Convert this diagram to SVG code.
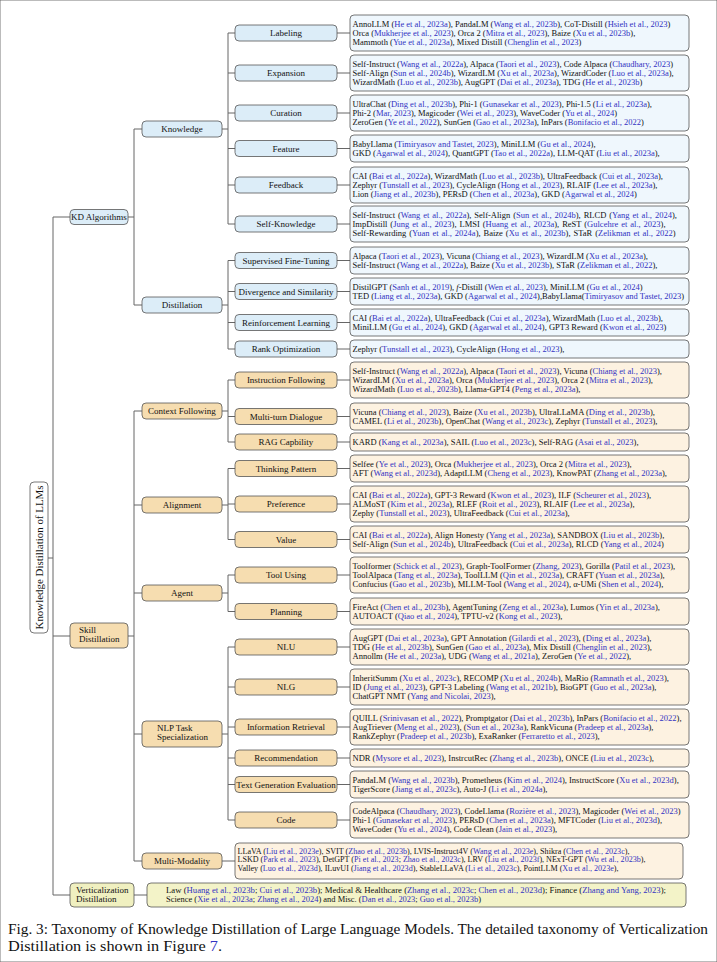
<svg xmlns="http://www.w3.org/2000/svg" width="717" height="962" viewBox="0 0 717 962">
<style>
text{font-family:"Liberation Serif","DejaVu Serif",serif;fill:#111}
.t{font-size:8.5px}
.m{font-size:8px}
.v{font-size:8.1px}
.c{fill:#3232c2}
.lb{font-size:9px;text-anchor:middle}
.ll{font-size:9px}
rect{stroke:#555;stroke-width:0.8}
.kb{fill:#dcedf8}
.kt{fill:#eff7fd}
.sb{fill:#f6ddb0}
.st{fill:#fdf2e1}
.vb{fill:#f0f0c0}
.vt{fill:#f3f3c8}
.rb{fill:#fff}
.ln{stroke:#666;stroke-width:1;fill:none}
.cap{font-size:14px}
</style>
<rect width="717" height="962" fill="#fff" stroke="none"/>
<g id="connectors" class="ln">
<path d="M48 558H53M53 217V895M53 217H70M53 636H70M53 895H70"/>
<path d="M128 217H134M134 129V305M134 129H142M134 305H142"/>
<path d="M128 636H134M134 411V861M134 411H142M134 505H142M134 593H142M134 734H142M134 861H142"/>
<path d="M134 895H147M222 861H235"/>
<path d="M222 129H228M228 33V224M228 33H235M228 73H235M228 113H235M228 148.5H235M228 185H235M228 224H235"/>
<path d="M222 305H228M228 260.5V349M228 260.5H235M228 291.5H235M228 322.5H235M228 349H235"/>
<path d="M222 411H228M228 380V442M228 380H235M228 416.5H235M228 442H235"/>
<path d="M222 505H228M228 468.5V539.5M228 468.5H235M228 504H235M228 539.5H235"/>
<path d="M222 593H228M228 575V611.5M228 575H235M228 611.5H235"/>
<path d="M222 734H228M228 647V820M228 647H235M228 687H235M228 727H235M228 758H235M228 784.5H235M228 820H235"/>
<path d="M337 33H350M337 73H350M337 113H350M337 148.5H350M337 185H350M337 224H350M337 260.5H350M337 291.5H350M337 322.5H350M337 349H350"/>
<path d="M337 380H350M337 416.5H350M337 442H350M337 468.5H350M337 504H350M337 539.5H350M337 575H350M337 611.5H350"/>
<path d="M337 647H350M337 687H350M337 727H350M337 758H350M337 784.5H350M337 820H350"/>
</g>
<g id="root"><rect class="rb" x="30" y="482" width="18" height="151" rx="4"/><text transform="translate(42.6,557.5) rotate(-90)" text-anchor="middle" font-size="10.6" textLength="144" lengthAdjust="spacingAndGlyphs">Knowledge Distillation of LLMs</text></g>
<g id="kd"><rect class="kb" x="70" y="209.5" width="58" height="15" rx="4"/><text class="lb" x="99" y="220.2">KD Algorithms</text></g>
<g id="skill"><rect class="sb" x="70" y="623" width="58" height="25" rx="4"/><text class="ll" x="79" y="633">Skill</text><text class="ll" x="79" y="642">Distillation</text></g>
<g id="vert"><rect class="vb" x="70" y="883" width="64" height="24" rx="4"/><text class="ll" x="76" y="892.5">Verticalization</text><text class="ll" x="76" y="901.5">Distillation</text></g>
<g id="knowledge"><rect class="kb" x="142" y="121" width="80" height="16" rx="4"/><text class="lb" x="182" y="132">Knowledge</text></g>
<g id="distillation"><rect class="kb" x="142" y="297" width="80" height="16" rx="4"/><text class="lb" x="182" y="308">Distillation</text></g>
<g id="context"><rect class="sb" x="142" y="403" width="80" height="16" rx="4"/><text class="lb" x="182" y="414">Context Following</text></g>
<g id="alignment"><rect class="sb" x="142" y="497" width="80" height="16" rx="4"/><text class="lb" x="182" y="508">Alignment</text></g>
<g id="agent"><rect class="sb" x="142" y="585" width="80" height="16" rx="4"/><text class="lb" x="182" y="596">Agent</text></g>
<g id="nlp"><rect class="sb" x="142" y="721" width="80" height="26" rx="4"/><text class="ll" x="157" y="731">NLP Task</text><text class="ll" x="157" y="740">Specialization</text></g>
<g id="mm"><rect class="sb" x="142" y="853" width="80" height="16" rx="4"/><text class="lb" x="182" y="864">Multi-Modality</text></g>

<g id="labeling"><rect class="kb" x="235" y="25" width="102" height="16" rx="4"/><text class="lb" x="286" y="36">Labeling</text>
<rect class="kt" x="350" y="15" width="339" height="36" rx="4"/>
<text class="t" x="352.5" y="26.5">AnnoLLM (<tspan class="c">He et al., 2023a</tspan>), PandaLM (<tspan class="c">Wang et al., 2023b</tspan>), CoT-Distill (<tspan class="c">Hsieh et al., 2023</tspan>)</text>
<text class="t" x="352.5" y="35.5">Orca (<tspan class="c">Mukherjee et al., 2023</tspan>), Orca 2 (<tspan class="c">Mitra et al., 2023</tspan>), Baize (<tspan class="c">Xu et al., 2023b</tspan>),</text>
<text class="t" x="352.5" y="44.5">Mammoth (<tspan class="c">Yue et al., 2023a</tspan>), Mixed Distill (<tspan class="c">Chenglin et al., 2023</tspan>)</text></g>

<g id="expansion"><rect class="kb" x="235" y="65" width="102" height="16" rx="4"/><text class="lb" x="286" y="76">Expansion</text>
<rect class="kt" x="350" y="55" width="339" height="36" rx="4"/>
<text class="t" x="352.5" y="66.5">Self-Instruct (<tspan class="c">Wang et al., 2022a</tspan>), Alpaca (<tspan class="c">Taori et al., 2023</tspan>), Code Alpaca (<tspan class="c">Chaudhary, 2023</tspan>)</text>
<text class="t" x="352.5" y="75.5">Self-Align (<tspan class="c">Sun et al., 2024b</tspan>), WizardLM (<tspan class="c">Xu et al., 2023a</tspan>), WizardCoder (<tspan class="c">Luo et al., 2023a</tspan>),</text>
<text class="t" x="352.5" y="84.5">WizardMath (<tspan class="c">Luo et al., 2023b</tspan>), AugGPT (<tspan class="c">Dai et al., 2023a</tspan>), TDG (<tspan class="c">He et al., 2023b</tspan>)</text></g>

<g id="curation"><rect class="kb" x="235" y="105" width="102" height="16" rx="4"/><text class="lb" x="286" y="116">Curation</text>
<rect class="kt" x="350" y="95" width="339" height="36" rx="4"/>
<text class="t" x="352.5" y="106.5">UltraChat (<tspan class="c">Ding et al., 2023b</tspan>), Phi-1 (<tspan class="c">Gunasekar et al., 2023</tspan>), Phi-1.5 (<tspan class="c">Li et al., 2023a</tspan>),</text>
<text class="t" x="352.5" y="115.5">Phi-2 (<tspan class="c">Mar, 2023</tspan>), Magicoder (<tspan class="c">Wei et al., 2023</tspan>), WaveCoder (<tspan class="c">Yu et al., 2024</tspan>)</text>
<text class="t" x="352.5" y="124.5">ZeroGen (<tspan class="c">Ye et al., 2022</tspan>), SunGen (<tspan class="c">Gao et al., 2023a</tspan>), InPars (<tspan class="c">Bonifacio et al., 2022</tspan>)</text></g>

<g id="feature"><rect class="kb" x="235" y="140.5" width="102" height="16" rx="4"/><text class="lb" x="286" y="151.5">Feature</text>
<rect class="kt" x="350" y="135" width="339" height="27" rx="4"/>
<text class="t" x="352.5" y="146.5">BabyLlama (<tspan class="c">Timiryasov and Tastet, 2023</tspan>), MiniLLM (<tspan class="c">Gu et al., 2024</tspan>),</text>
<text class="t" x="352.5" y="155.5">GKD (<tspan class="c">Agarwal et al., 2024</tspan>), QuantGPT (<tspan class="c">Tao et al., 2022a</tspan>), LLM-QAT (<tspan class="c">Liu et al., 2023a</tspan>),</text></g>

<g id="feedback"><rect class="kb" x="235" y="177" width="102" height="16" rx="4"/><text class="lb" x="286" y="188">Feedback</text>
<rect class="kt" x="350" y="167" width="339" height="36" rx="4"/>
<text class="t" x="352.5" y="178.5">CAI (<tspan class="c">Bai et al., 2022a</tspan>), WizardMath (<tspan class="c">Luo et al., 2023b</tspan>), UltraFeedback (<tspan class="c">Cui et al., 2023a</tspan>),</text>
<text class="t" x="352.5" y="187.5">Zephyr (<tspan class="c">Tunstall et al., 2023</tspan>), CycleAlign (<tspan class="c">Hong et al., 2023</tspan>), RLAIF (<tspan class="c">Lee et al., 2023a</tspan>),</text>
<text class="t" x="352.5" y="196.5">Lion (<tspan class="c">Jiang et al., 2023b</tspan>), PERsD (<tspan class="c">Chen et al., 2023a</tspan>), GKD (<tspan class="c">Agarwal et al., 2024</tspan>)</text></g>

<g id="selfknowledge"><rect class="kb" x="235" y="216" width="102" height="16" rx="4"/><text class="lb" x="286" y="227">Self-Knowledge</text>
<rect class="kt" x="350" y="206" width="339" height="36" rx="4"/>
<text class="t" x="352.5" y="217.5" word-spacing="0.8">Self-Instruct (<tspan class="c">Wang et al., 2022a</tspan>), Self-Align (<tspan class="c">Sun et al., 2024b</tspan>), RLCD (<tspan class="c">Yang et al., 2024</tspan>),</text>
<text class="t" x="352.5" y="226.5" word-spacing="0.8">ImpDistill (<tspan class="c">Jung et al., 2023</tspan>), LMSI (<tspan class="c">Huang et al., 2023a</tspan>), ReST (<tspan class="c">Gulcehre et al., 2023</tspan>),</text>
<text class="t" x="352.5" y="235.5" word-spacing="0.8">Self-Rewarding (<tspan class="c">Yuan et al., 2024a</tspan>), Baize (<tspan class="c">Xu et al., 2023b</tspan>), STaR (<tspan class="c">Zelikman et al., 2022</tspan>)</text></g>

<g id="sft"><rect class="kb" x="235" y="252.5" width="102" height="16" rx="4"/><text class="lb" x="286" y="263.5">Supervised Fine-Tuning</text>
<rect class="kt" x="350" y="247" width="339" height="27" rx="4"/>
<text class="t" x="352.5" y="258.5">Alpaca (<tspan class="c">Taori et al., 2023</tspan>), Vicuna (<tspan class="c">Chiang et al., 2023</tspan>), WizardLM (<tspan class="c">Xu et al., 2023a</tspan>),</text>
<text class="t" x="352.5" y="267.5">Self-Instruct (<tspan class="c">Wang et al., 2022a</tspan>), Baize (<tspan class="c">Xu et al., 2023b</tspan>), STaR (<tspan class="c">Zelikman et al., 2022</tspan>),</text></g>

<g id="divergence"><rect class="kb" x="235" y="283.5" width="102" height="16" rx="4"/><text class="lb" x="286" y="294.5">Divergence and Similarity</text>
<rect class="kt" x="350" y="278" width="339" height="27" rx="4"/>
<text class="t" x="352.5" y="289.5">DistilGPT (<tspan class="c">Sanh et al., 2019</tspan>), <tspan font-style="italic">f</tspan>-Distill (<tspan class="c">Wen et al., 2023</tspan>), MiniLLM (<tspan class="c">Gu et al., 2024</tspan>)</text>
<text class="t" x="352.5" y="298.5">TED (<tspan class="c">Liang et al., 2023a</tspan>), GKD (<tspan class="c">Agarwal et al., 2024</tspan>),BabyLlama(<tspan class="c">Timiryasov and Tastet, 2023</tspan>)</text></g>

<g id="rl"><rect class="kb" x="235" y="314.5" width="102" height="16" rx="4"/><text class="lb" x="286" y="325.5">Reinforcement Learning</text>
<rect class="kt" x="350" y="309" width="339" height="27" rx="4"/>
<text class="t" x="352.5" y="320.5">CAI (<tspan class="c">Bai et al., 2022a</tspan>), UltraFeedback (<tspan class="c">Cui et al., 2023a</tspan>), WizardMath (<tspan class="c">Luo et al., 2023b</tspan>),</text>
<text class="t" x="352.5" y="329.5">MiniLLM (<tspan class="c">Gu et al., 2024</tspan>), GKD (<tspan class="c">Agarwal et al., 2024</tspan>), GPT3 Reward (<tspan class="c">Kwon et al., 2023</tspan>)</text></g>

<g id="rank"><rect class="kb" x="235" y="341" width="102" height="16" rx="4"/><text class="lb" x="286" y="352">Rank Optimization</text>
<rect class="kt" x="350" y="340" width="339" height="18" rx="4"/>
<text class="t" x="352.5" y="351.5">Zephyr (<tspan class="c">Tunstall et al., 2023</tspan>), CycleAlign (<tspan class="c">Hong et al., 2023</tspan>),</text></g>

<g id="instruction"><rect class="sb" x="235" y="372" width="102" height="16" rx="4"/><text class="lb" x="286" y="383">Instruction Following</text>
<rect class="st" x="350" y="362" width="339" height="36" rx="4"/>
<text class="t" x="352.5" y="373.5">Self-Instruct (<tspan class="c">Wang et al., 2022a</tspan>), Alpaca (<tspan class="c">Taori et al., 2023</tspan>), Vicuna (<tspan class="c">Chiang et al., 2023</tspan>),</text>
<text class="t" x="352.5" y="382.5">WizardLM (<tspan class="c">Xu et al., 2023a</tspan>), Orca (<tspan class="c">Mukherjee et al., 2023</tspan>), Orca 2 (<tspan class="c">Mitra et al., 2023</tspan>),</text>
<text class="t" x="352.5" y="391.5">WizardMath (<tspan class="c">Luo et al., 2023b</tspan>), Llama-GPT4 (<tspan class="c">Peng et al., 2023a</tspan>),</text></g>

<g id="multiturn"><rect class="sb" x="235" y="408.5" width="102" height="16" rx="4"/><text class="lb" x="286" y="419.5">Multi-turn Dialogue</text>
<rect class="st" x="350" y="403" width="339" height="27" rx="4"/>
<text class="t" x="352.5" y="414.5">Vicuna (<tspan class="c">Chiang et al., 2023</tspan>), Baize (<tspan class="c">Xu et al., 2023b</tspan>), UltraLLaMA (<tspan class="c">Ding et al., 2023b</tspan>),</text>
<text class="t" x="352.5" y="423.5">CAMEL (<tspan class="c">Li et al., 2023b</tspan>), OpenChat (<tspan class="c">Wang et al., 2023c</tspan>), Zephyr (<tspan class="c">Tunstall et al., 2023</tspan>),</text></g>

<g id="rag"><rect class="sb" x="235" y="434" width="102" height="16" rx="4"/><text class="lb" x="286" y="445">RAG Capbility</text>
<rect class="st" x="350" y="433" width="339" height="18" rx="4"/>
<text class="t" x="352.5" y="444.5">KARD (<tspan class="c">Kang et al., 2023a</tspan>), SAIL (<tspan class="c">Luo et al., 2023c</tspan>), Self-RAG (<tspan class="c">Asai et al., 2023</tspan>),</text></g>

<g id="thinking"><rect class="sb" x="235" y="460.5" width="102" height="16" rx="4"/><text class="lb" x="286" y="471.5">Thinking Pattern</text>
<rect class="st" x="350" y="455" width="339" height="27" rx="4"/>
<text class="t" x="352.5" y="466.5">Selfee (<tspan class="c">Ye et al., 2023</tspan>), Orca (<tspan class="c">Mukherjee et al., 2023</tspan>), Orca 2 (<tspan class="c">Mitra et al., 2023</tspan>),</text>
<text class="t" x="352.5" y="475.5">AFT (<tspan class="c">Wang et al., 2023d</tspan>), AdaptLLM (<tspan class="c">Cheng et al., 2023</tspan>), KnowPAT (<tspan class="c">Zhang et al., 2023a</tspan>),</text></g>

<g id="preference"><rect class="sb" x="235" y="496" width="102" height="16" rx="4"/><text class="lb" x="286" y="507">Preference</text>
<rect class="st" x="350" y="486" width="339" height="36" rx="4"/>
<text class="t" x="352.5" y="497.5">CAI (<tspan class="c">Bai et al., 2022a</tspan>), GPT-3 Reward (<tspan class="c">Kwon et al., 2023</tspan>), ILF (<tspan class="c">Scheurer et al., 2023</tspan>),</text>
<text class="t" x="352.5" y="506.5">ALMoST (<tspan class="c">Kim et al., 2023a</tspan>), RLEF (<tspan class="c">Roit et al., 2023</tspan>), RLAIF (<tspan class="c">Lee et al., 2023a</tspan>),</text>
<text class="t" x="352.5" y="515.5">Zephy (<tspan class="c">Tunstall et al., 2023</tspan>), UltraFeedback (<tspan class="c">Cui et al., 2023a</tspan>),</text></g>

<g id="value"><rect class="sb" x="235" y="531.5" width="102" height="16" rx="4"/><text class="lb" x="286" y="542.5">Value</text>
<rect class="st" x="350" y="526" width="339" height="27" rx="4"/>
<text class="t" x="352.5" y="537.5">CAI (<tspan class="c">Bai et al., 2022a</tspan>), Align Honesty (<tspan class="c">Yang et al., 2023a</tspan>), SANDBOX (<tspan class="c">Liu et al., 2023b</tspan>),</text>
<text class="t" x="352.5" y="546.5">Self-Align (<tspan class="c">Sun et al., 2024b</tspan>), UltraFeedback (<tspan class="c">Cui et al., 2023a</tspan>), RLCD (<tspan class="c">Yang et al., 2024</tspan>)</text></g>

<g id="toolusing"><rect class="sb" x="235" y="567" width="102" height="16" rx="4"/><text class="lb" x="286" y="578">Tool Using</text>
<rect class="st" x="350" y="557" width="339" height="36" rx="4"/>
<text class="t" x="352.5" y="568.5">Toolformer (<tspan class="c">Schick et al., 2023</tspan>), Graph-ToolFormer (<tspan class="c">Zhang, 2023</tspan>), Gorilla (<tspan class="c">Patil et al., 2023</tspan>),</text>
<text class="t" x="352.5" y="577.5">ToolAlpaca (<tspan class="c">Tang et al., 2023a</tspan>), ToolLLM (<tspan class="c">Qin et al., 2023a</tspan>), CRAFT (<tspan class="c">Yuan et al., 2023a</tspan>),</text>
<text class="t" x="352.5" y="586.5">Confucius (<tspan class="c">Gao et al., 2023b</tspan>), MLLM-Tool (<tspan class="c">Wang et al., 2024</tspan>), α-UMi (<tspan class="c">Shen et al., 2024</tspan>),</text></g>

<g id="planning"><rect class="sb" x="235" y="603.5" width="102" height="16" rx="4"/><text class="lb" x="286" y="614.5">Planning</text>
<rect class="st" x="350" y="598" width="339" height="27" rx="4"/>
<text class="t" x="352.5" y="609.5">FireAct (<tspan class="c">Chen et al., 2023b</tspan>), AgentTuning (<tspan class="c">Zeng et al., 2023a</tspan>), Lumos (<tspan class="c">Yin et al., 2023a</tspan>),</text>
<text class="t" x="352.5" y="618.5">AUTOACT (<tspan class="c">Qiao et al., 2024</tspan>), TPTU-v2 (<tspan class="c">Kong et al., 2023</tspan>),</text></g>

<g id="nlu"><rect class="sb" x="235" y="639" width="102" height="16" rx="4"/><text class="lb" x="286" y="650">NLU</text>
<rect class="st" x="350" y="629" width="339" height="36" rx="4"/>
<text class="t" x="352.5" y="640.5">AugGPT (<tspan class="c">Dai et al., 2023a</tspan>),  GPT Annotation (<tspan class="c">Gilardi et al., 2023</tspan>), (<tspan class="c">Ding et al., 2023a</tspan>),</text>
<text class="t" x="352.5" y="649.5">TDG (<tspan class="c">He et al., 2023b</tspan>), SunGen (<tspan class="c">Gao et al., 2023a</tspan>), Mix Distill (<tspan class="c">Chenglin et al., 2023</tspan>),</text>
<text class="t" x="352.5" y="658.5">Annollm (<tspan class="c">He et al., 2023a</tspan>), UDG (<tspan class="c">Wang et al., 2021a</tspan>), ZeroGen (<tspan class="c">Ye et al., 2022</tspan>),</text></g>

<g id="nlg"><rect class="sb" x="235" y="679" width="102" height="16" rx="4"/><text class="lb" x="286" y="690">NLG</text>
<rect class="st" x="350" y="669" width="339" height="36" rx="4"/>
<text class="t" x="352.5" y="680.5">InheritSumm (<tspan class="c">Xu et al., 2023c</tspan>), RECOMP (<tspan class="c">Xu et al., 2024b</tspan>), MaRio (<tspan class="c">Ramnath et al., 2023</tspan>),</text>
<text class="t" x="352.5" y="689.5">ID (<tspan class="c">Jung et al., 2023</tspan>), GPT-3 Labeling (<tspan class="c">Wang et al., 2021b</tspan>), BioGPT (<tspan class="c">Guo et al., 2023a</tspan>),</text>
<text class="t" x="352.5" y="698.5">ChatGPT NMT (<tspan class="c">Yang and Nicolai, 2023</tspan>),</text></g>

<g id="ir"><rect class="sb" x="235" y="719" width="102" height="16" rx="4"/><text class="lb" x="286" y="730">Information Retrieval</text>
<rect class="st" x="350" y="709" width="339" height="36" rx="4"/>
<text class="t" x="352.5" y="720.5">QUILL (<tspan class="c">Srinivasan et al., 2022</tspan>), Promptgator (<tspan class="c">Dai et al., 2023b</tspan>), InPars (<tspan class="c">Bonifacio et al., 2022</tspan>),</text>
<text class="t" x="352.5" y="729.5">AugTriever (<tspan class="c">Meng et al., 2023</tspan>),  (<tspan class="c">Sun et al., 2023a</tspan>), RankVicuna (<tspan class="c">Pradeep et al., 2023a</tspan>),</text>
<text class="t" x="352.5" y="738.5">RankZephyr (<tspan class="c">Pradeep et al., 2023b</tspan>), ExaRanker (<tspan class="c">Ferraretto et al., 2023</tspan>),</text></g>

<g id="recommendation"><rect class="sb" x="235" y="750" width="102" height="16" rx="4"/><text class="lb" x="286" y="761">Recommendation</text>
<rect class="st" x="350" y="749" width="339" height="18" rx="4"/>
<text class="t" x="352.5" y="760.5">NDR (<tspan class="c">Mysore et al., 2023</tspan>), InstrcutRec (<tspan class="c">Zhang et al., 2023b</tspan>), ONCE (<tspan class="c">Liu et al., 2023c</tspan>),</text></g>

<g id="tge"><rect class="sb" x="235" y="776.5" width="102" height="16" rx="4"/><text class="lb" x="286" y="787.5">Text Generation Evaluation</text>
<rect class="st" x="350" y="771" width="339" height="27" rx="4"/>
<text class="t" x="352.5" y="782.5">PandaLM (<tspan class="c">Wang et al., 2023b</tspan>), Prometheus (<tspan class="c">Kim et al., 2024</tspan>), InstructScore (<tspan class="c">Xu et al., 2023d</tspan>),</text>
<text class="t" x="352.5" y="791.5">TigerScore (<tspan class="c">Jiang et al., 2023c</tspan>), Auto-J (<tspan class="c">Li et al., 2024a</tspan>),</text></g>

<g id="code"><rect class="sb" x="235" y="812" width="102" height="16" rx="4"/><text class="lb" x="286" y="823">Code</text>
<rect class="st" x="350" y="802" width="339" height="36" rx="4"/>
<text class="t" x="352.5" y="813.5">CodeAlpaca (<tspan class="c">Chaudhary, 2023</tspan>), CodeLlama (<tspan class="c">Rozière et al., 2023</tspan>), Magicoder (<tspan class="c">Wei et al., 2023</tspan>)</text>
<text class="t" x="352.5" y="822.5">Phi-1 (<tspan class="c">Gunasekar et al., 2023</tspan>), PERsD (<tspan class="c">Chen et al., 2023a</tspan>), MFTCoder (<tspan class="c">Liu et al., 2023d</tspan>),</text>
<text class="t" x="352.5" y="831.5">WaveCoder (<tspan class="c">Yu et al., 2024</tspan>), Code Clean (<tspan class="c">Jain et al., 2023</tspan>),</text></g>

<g id="mm-leaf"><rect class="st" x="235" y="843" width="448" height="36" rx="4"/>
<text class="m" x="237.5" y="853.5" textLength="392" lengthAdjust="spacingAndGlyphs">LLaVA (<tspan class="c">Liu et al., 2023e</tspan>), SVIT (<tspan class="c">Zhao et al., 2023b</tspan>), LVIS-Instruct4V (<tspan class="c">Wang et al., 2023e</tspan>), Shikra (<tspan class="c">Chen et al., 2023c</tspan>),</text>
<text class="m" x="237.5" y="862" textLength="408" lengthAdjust="spacingAndGlyphs">LSKD (<tspan class="c">Park et al., 2023</tspan>), DetGPT (<tspan class="c">Pi et al., 2023</tspan>; <tspan class="c">Zhao et al., 2023c</tspan>), LRV (<tspan class="c">Liu et al., 2023f</tspan>), NExT-GPT (<tspan class="c">Wu et al., 2023b</tspan>),</text>
<text class="m" x="237.5" y="870.5" textLength="381" lengthAdjust="spacingAndGlyphs">Valley (<tspan class="c">Luo et al., 2023d</tspan>), ILuvUI (<tspan class="c">Jiang et al., 2023d</tspan>), StableLLaVA (<tspan class="c">Li et al., 2023c</tspan>), PointLLM (<tspan class="c">Xu et al., 2023e</tspan>),</text></g>

<g id="vert-leaf"><rect class="vt" x="147" y="883" width="539" height="24" rx="4"/>
<text class="v" x="166" y="892.5" textLength="500" lengthAdjust="spacingAndGlyphs">Law (<tspan class="c">Huang et al., 2023b</tspan>; <tspan class="c">Cui et al., 2023b</tspan>); Medical &amp; Healthcare (<tspan class="c">Zhang et al., 2023c</tspan>; <tspan class="c">Chen et al., 2023d</tspan>); Finance (<tspan class="c">Zhang and Yang, 2023</tspan>);</text>
<text class="v" x="166" y="901.5" textLength="315" lengthAdjust="spacingAndGlyphs">Science (<tspan class="c">Xie et al., 2023a</tspan>; <tspan class="c">Zhang et al., 2024</tspan>) and Misc. (<tspan class="c">Dan et al., 2023</tspan>; <tspan class="c">Guo et al., 2023b</tspan>)</text></g>

<g id="caption">
<text class="cap" x="8" y="933.5" textLength="700" lengthAdjust="spacingAndGlyphs">Fig. 3: Taxonomy of Knowledge Distillation of Large Language Models. The detailed taxonomy of Verticalization</text>
<text class="cap" x="8" y="950.5" textLength="214" lengthAdjust="spacingAndGlyphs">Distillation is shown in Figure <tspan class="c">7</tspan>.</text>
</g>
</svg>
